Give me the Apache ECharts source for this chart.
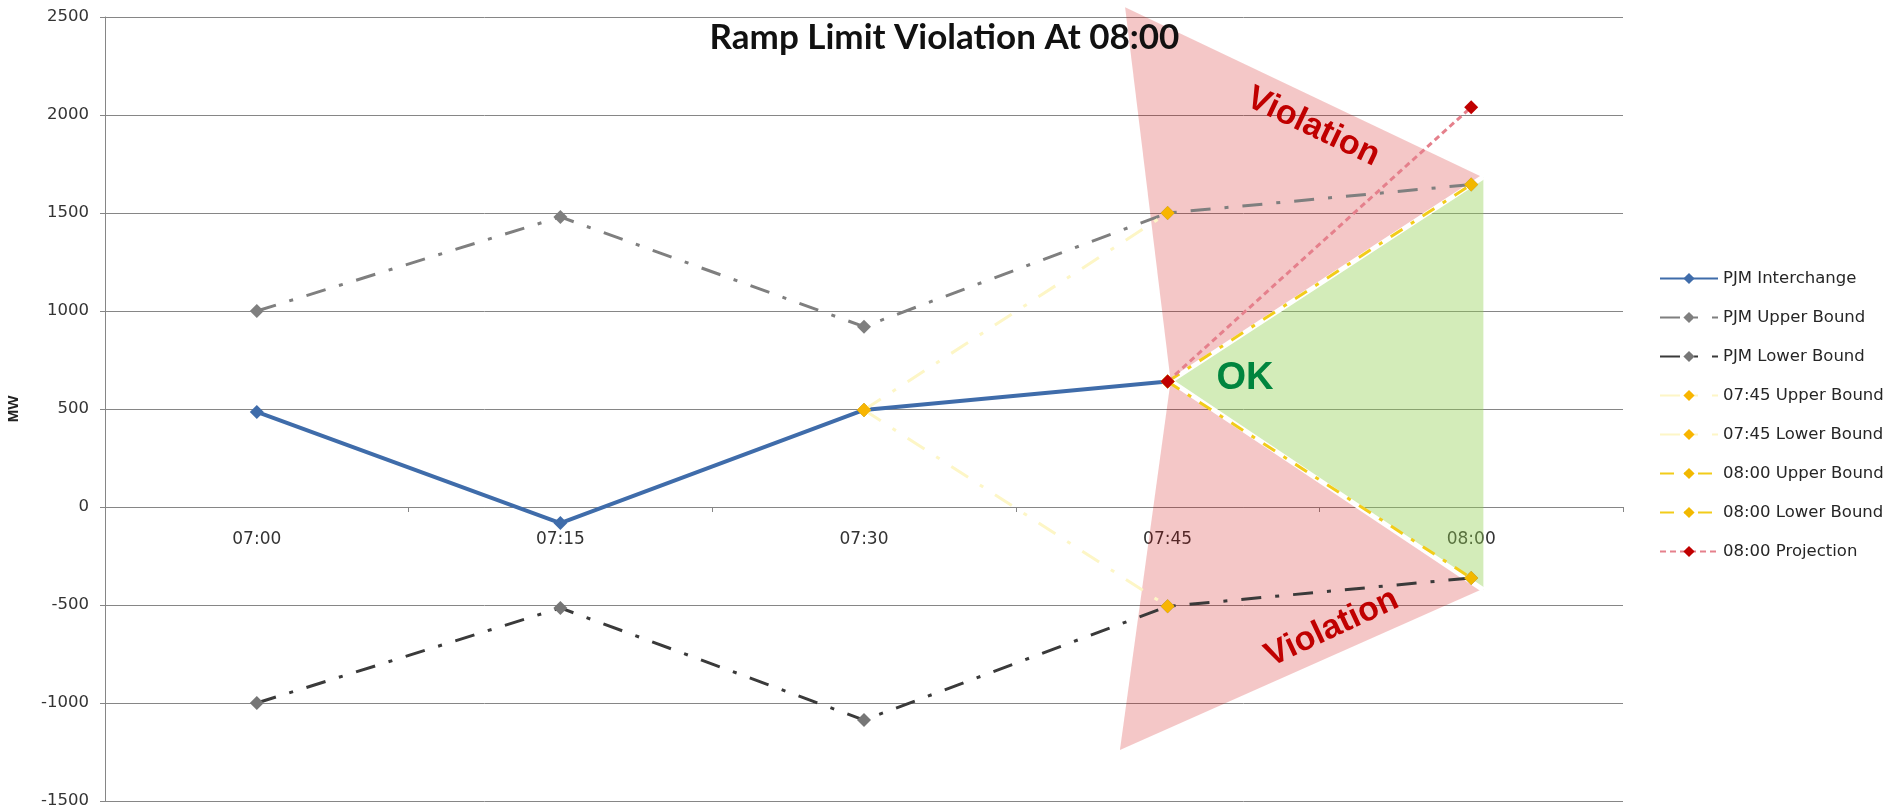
<!DOCTYPE html>
<html>
<head>
<meta charset="utf-8">
<title>Ramp Limit Violation At 08:00</title>
<script src="https://cdn.jsdelivr.net/npm/echarts@6/dist/echarts.min.js"></script>
<style>
    html, body { margin: 0; padding: 0; background: #fff; }
    #chart { width: 1889px; height: 812px; }
</style>
</head>
<body>
<div id="chart"></div>
<script>
// time slots on the x axis
const times = ['07:00', '07:15', '07:30', '07:45', '08:00']

// MW values (null = no point)
const interchange = [485, -82, 495, 640, null]
const pjmUpper = [1000, 1480, 920, 1500, 1645]
const pjmLower = [-1000, -515, -1087, -507, -362]
const upper0745 = [null, null, 495, 1500, null]
const lower0745 = [null, null, 495, -507, null]
const upper0800 = [null, null, null, 640, 1645]
const lower0800 = [null, null, null, 640, -362]
const projection = [null, null, null, 640, 2040]

// overlay zones, vertices as [slot index, MW]
const violationTop = [[2.86, 2550], [4.036, 1684], [3.01, 643]]
const violationBottom = [[3.01, 643], [4.03, -423], [2.843, -1240]]
const okZone = [[3.01, 643], [4.04, 1684], [4.04, -423]]
const okEdge = [[4.04, 1684], [3.01, 643], [4.04, -423]]

// annotation texts, anchored as [slot index, MW]
const noteTexts = ['Violation', 'Violation', 'OK']
const noteAt = [[3.479, 1939], [3.541, -617], [3.255, 653]]
const noteAngle = [-25.5, 25, 0]

const dashDot = [20, 14, 4, 14]
const commonLine = {
    type: 'line',
    symbol: 'diamond',
    symbolSize: 14,
    showSymbol: true,
    connectNulls: false,
    animation: false,
    lineStyle: { width: 3, cap: 'butt' }
}

function makeLine(name, data, lineColor, markColor, lineType, width, z) {
    return {
        ...commonLine,
        name,
        data,
        z,
        itemStyle: { color: markColor, borderWidth: 0 },
        lineStyle: { color: lineColor, type: lineType, width, cap: 'butt' }
    }
}

const zones = [violationTop, violationBottom, okZone]
const zoneFill = ['rgba(204, 0, 0, 0.22)', 'rgba(204, 0, 0, 0.22)', 'rgba(146, 208, 80, 0.4)']

const chart = echarts.init(document.getElementById('chart'))

const option = {
    animation: false,
    backgroundColor: '#fff',
    title: {
        text: 'Ramp Limit Violation At 08:00',
        left: 'center',
        top: 15,
        textStyle: { fontFamily: 'Lato', fontWeight: 'bold', fontSize: 35, color: '#111' }
    },
    legend: {
        orient: 'vertical',
        left: 1654,
        top: 265,
        itemWidth: 58,
        itemHeight: 14,
        itemGap: 22,
        data: ['PJM Interchange', 'PJM Upper Bound', 'PJM Lower Bound', '07:45 Upper Bound',
            '07:45 Lower Bound', '08:00 Upper Bound', '08:00 Lower Bound', '08:00 Projection'],
        textStyle: { fontFamily: 'DejaVu Sans', fontSize: 16.5, color: '#262626' }
    },
    grid: { left: 105, right: 266, top: 17, bottom: 11, containLabel: false, outerBoundsMode: 'none' },
    xAxis: [{
        type: 'category',
        data: times,
        boundaryGap: true,
        // axis drawn across the zero line: 294px above the plot bottom
        offset: -294,
        axisLine: { onZero: false, lineStyle: { color: '#868686', width: 1 } },
        axisTick: { show: true, length: 5, lineStyle: { color: '#868686' } },
        axisLabel: { margin: 24, fontFamily: 'DejaVu Sans', fontSize: 17, color: '#333' },
        splitLine: { show: false }
    }, {
        // hidden helper axis so overlay shapes can sit between slots
        type: 'value',
        min: -0.5,
        max: 4.5,
        show: false
    }],
    yAxis: {
        type: 'value',
        min: -1500,
        max: 2500,
        interval: 500,
        name: 'MW',
        nameLocation: 'middle',
        nameGap: 84,
        nameTextStyle: { fontFamily: 'Liberation Sans', fontWeight: 'bold', fontSize: 15, color: '#222' },
        axisLine: { show: true, onZero: false, lineStyle: { color: '#868686' } },
        axisTick: { show: true, length: 5, lineStyle: { color: '#868686' } },
        axisLabel: {
            margin: 16,
            fontFamily: 'DejaVu Sans',
            fontSize: 16.5,
            color: '#333',
            formatter: v => String(v)
        },
        splitLine: { show: true, lineStyle: { color: '#868686', width: 1 } }
    },
    series: [
        {
            name: 'zones',
            type: 'custom',
            xAxisIndex: 1,
            z: 1,
            silent: true,
            data: zones.map((z, i) => [i]),
            renderItem: (params, api) => {
                const idx = params.dataIndex
                const children = [{
                    type: 'polygon',
                    shape: { points: zones[idx].map(p => api.coord(p)) },
                    style: { fill: zoneFill[idx] }
                }]
                if (idx === 2) {
                    children.push({
                        type: 'polyline',
                        shape: { points: okEdge.map(p => api.coord(p)) },
                        style: { stroke: '#fff', lineWidth: 5, fill: null }
                    })
                }
                return { type: 'group', children }
            }
        },
        makeLine('PJM Interchange', interchange, '#3f6caa', '#3f6caa', 'solid', 4, 3),
        makeLine('PJM Upper Bound', pjmUpper, '#7f7f7f', '#7f7f7f', dashDot, 3, 3),
        makeLine('PJM Lower Bound', pjmLower, '#3a3a3a', '#767676', dashDot, 3, 3),
        makeLine('07:45 Upper Bound', upper0745, '#fdf6c6', '#f8b500', dashDot, 3, 4),
        makeLine('07:45 Lower Bound', lower0745, '#fdf6c6', '#f8b500', dashDot, 3, 4),
        makeLine('08:00 Upper Bound', upper0800, '#f2cc1a', '#f2b800', [14, 10, 4, 10], 3, 5),
        makeLine('08:00 Lower Bound', lower0800, '#f2cc1a', '#f2b800', [14, 10, 4, 10], 3, 5),
        makeLine('08:00 Projection', projection, '#e5808c', '#c00000', [6, 4], 3, 6),
        {
            name: 'notes',
            type: 'custom',
            xAxisIndex: 1,
            z: 10,
            silent: true,
            data: noteTexts.map((t, i) => [i]),
            renderItem: (params, api) => {
                const idx = params.dataIndex
                const pt = api.coord(noteAt[idx])
                const isOk = noteTexts[idx] === 'OK'
                return {
                    type: 'text',
                    x: pt[0],
                    y: pt[1],
                    rotation: noteAngle[idx] * Math.PI / 180,
                    style: {
                        text: noteTexts[idx],
                        fill: isOk ? '#00853e' : '#c00000',
                        font: 'bold ' + (isOk ? 38 : 34) + 'px "Liberation Sans", Arial, sans-serif',
                        align: 'center',
                        verticalAlign: 'middle'
                    }
                }
            }
        }
    ]
}

chart.setOption(option)
</script>
</body>
</html>
